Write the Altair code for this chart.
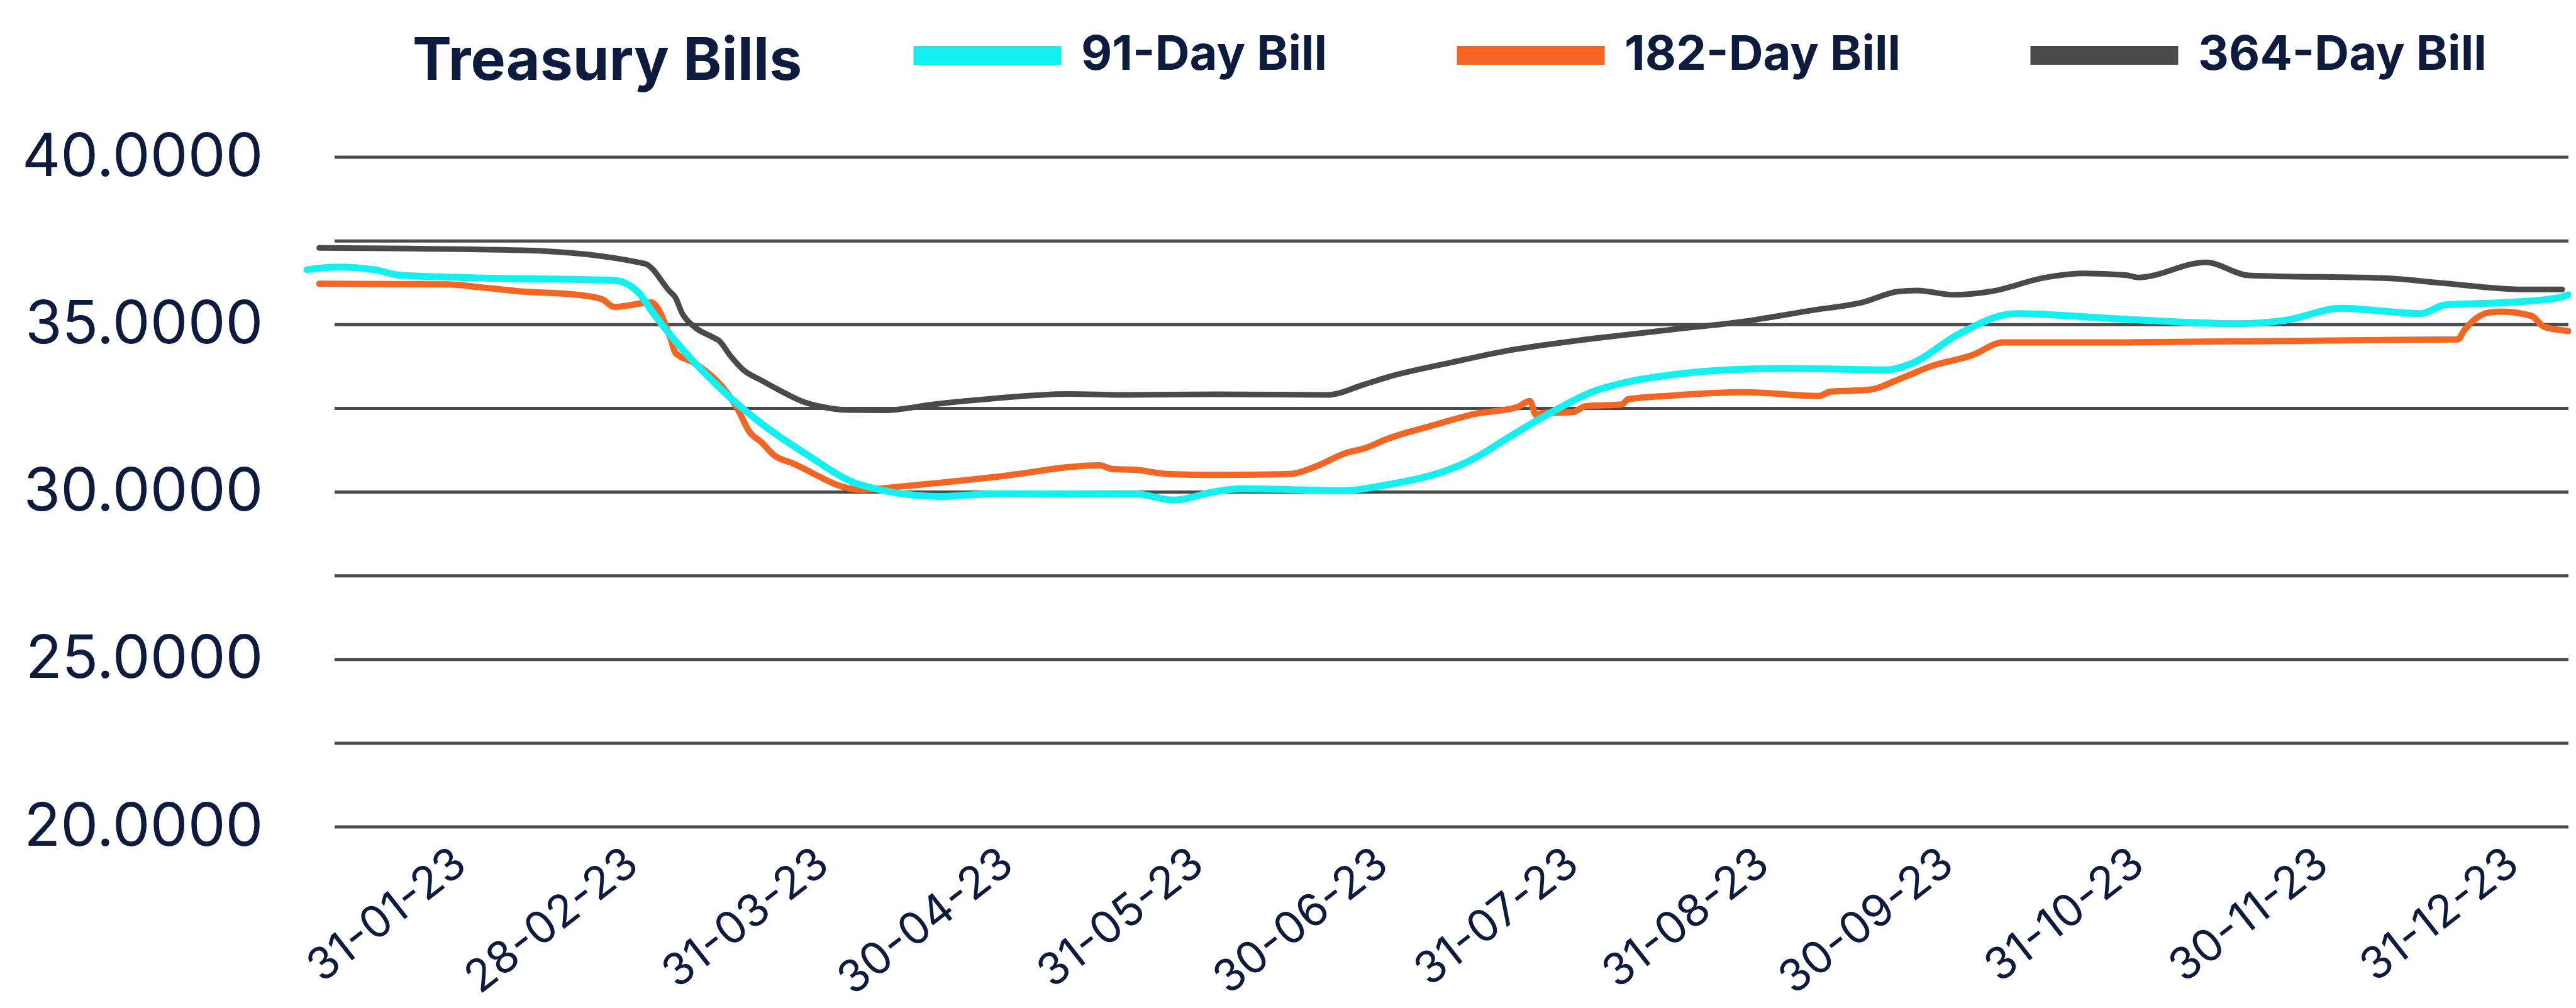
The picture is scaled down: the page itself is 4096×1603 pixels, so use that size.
import altair as alt
import pandas as pd

# ---------------- data ----------------
series_names = ["91-Day Bill", "182-Day Bill", "364-Day Bill"]
series_colors = ["#12F0F0", "#F26522", "#4A4A4A"]

dates_91 = ["2023-01-04", "2023-01-09", "2023-01-15", "2023-01-19", "2023-01-31", "2023-02-23",
            "2023-02-27", "2023-03-01", "2023-03-05", "2023-03-10", "2023-03-14", "2023-03-19",
            "2023-03-26", "2023-04-04", "2023-04-17", "2023-04-26", "2023-05-19", "2023-05-25",
            "2023-06-01", "2023-06-05", "2023-06-22", "2023-06-27", "2023-07-13", "2023-07-18",
            "2023-07-25", "2023-08-01", "2023-08-08", "2023-08-14", "2023-08-23", "2023-09-02",
            "2023-09-18", "2023-09-22", "2023-09-30", "2023-10-09", "2023-10-27", "2023-11-14",
            "2023-11-22", "2023-12-01", "2023-12-14", "2023-12-18", "2023-12-28", "2024-01-05",
            "2024-01-07"]
values_91 = [36.64, 36.72, 36.64, 36.48, 36.40, 36.32, 35.95, 35.43, 34.50, 33.50, 32.80, 32.04,
             31.16, 30.22, 29.87, 29.95, 29.94, 29.76, 30.02, 30.10, 30.04, 30.16, 31.01, 31.57,
             32.33, 32.98, 33.33, 33.50, 33.65, 33.69, 33.65, 33.83, 34.74, 35.33, 35.16, 35.03,
             35.13, 35.49, 35.33, 35.59, 35.66, 35.79, 35.89]

dates_182 = ["2023-01-06", "2023-01-27", "2023-02-01", "2023-02-08", "2023-02-17", "2023-02-21",
             "2023-02-23", "2023-03-01", "2023-03-04", "2023-03-05", "2023-03-08", "2023-03-15",
             "2023-03-17", "2023-03-19", "2023-03-21", "2023-03-24", "2023-04-04", "2023-04-12",
             "2023-04-26", "2023-05-13", "2023-05-15", "2023-05-19", "2023-05-24", "2023-06-01",
             "2023-06-13", "2023-06-17", "2023-06-22", "2023-06-25", "2023-06-29", "2023-07-06",
             "2023-07-13", "2023-07-20", "2023-07-22", "2023-07-23", "2023-07-24", "2023-07-29",
             "2023-07-31", "2023-08-06", "2023-08-07", "2023-08-14", "2023-08-26", "2023-09-07",
             "2023-09-09", "2023-09-15", "2023-09-21", "2023-09-25", "2023-10-02", "2023-10-07",
             "2023-10-27", "2023-12-20", "2023-12-21", "2023-12-25", "2023-12-27", "2024-01-01",
             "2024-01-03", "2024-01-07"]
values_182 = [36.22, 36.20, 36.12, 35.99, 35.89, 35.76, 35.53, 35.66, 34.68, 34.15, 33.86, 32.51,
              31.80, 31.48, 31.10, 30.86, 30.07, 30.19, 30.45, 30.80, 30.69, 30.66, 30.54, 30.51,
              30.54, 30.75, 31.16, 31.30, 31.60, 31.98, 32.33, 32.54, 32.72, 32.30, 32.36, 32.39,
              32.56, 32.62, 32.77, 32.88, 32.98, 32.87, 33.00, 33.05, 33.44, 33.74, 34.09, 34.47,
              34.47, 34.56, 34.82, 35.36, 35.39, 35.26, 34.94, 34.81]

dates_364 = ["2023-01-06", "2023-02-08", "2023-02-28", "2023-03-04", "2023-03-05", "2023-03-06",
             "2023-03-08", "2023-03-11", "2023-03-12", "2023-03-14", "2023-03-16", "2023-03-19",
             "2023-03-22", "2023-03-26", "2023-03-29", "2023-04-02", "2023-04-08", "2023-04-16",
             "2023-04-26", "2023-05-08", "2023-05-17", "2023-06-01", "2023-06-19", "2023-06-25",
             "2023-06-29", "2023-07-09", "2023-07-18", "2023-07-30", "2023-08-14", "2023-08-26",
             "2023-09-06", "2023-09-14", "2023-09-20", "2023-09-23", "2023-09-29", "2023-10-05",
             "2023-10-14", "2023-10-20", "2023-10-27", "2023-10-29", "2023-11-09", "2023-11-16",
             "2023-12-09", "2023-12-17", "2023-12-31", "2024-01-06"]
values_364 = [37.29, 37.22, 36.82, 36.00, 35.80, 35.36, 34.94, 34.63, 34.53, 34.05, 33.65, 33.33,
              33.03, 32.68, 32.54, 32.45, 32.44, 32.62, 32.80, 32.93, 32.90, 32.92, 32.90, 33.21,
              33.44, 33.86, 34.21, 34.53, 34.85, 35.10, 35.43, 35.66, 35.99, 36.02, 35.89, 35.99,
              36.41, 36.53, 36.48, 36.41, 36.86, 36.47, 36.38, 36.25, 36.05, 36.05]

x_tick_dates = ["2023-01-31", "2023-02-28", "2023-03-31", "2023-04-30", "2023-05-31", "2023-06-30",
                "2023-07-31", "2023-08-31", "2023-09-30", "2023-10-31", "2023-11-30", "2023-12-31"]
y_label_values = [20, 25, 30, 35, 40]
y_grid_values = [20, 22.5, 25, 27.5, 30, 32.5, 35, 37.5, 40]

x_domain = ["2023-01-04", "2024-01-07T10:00:00"]
grid_span = ["2023-01-08T12:00:00", "2024-01-07"]

# ---------------- helpers ----------------
def ms(s):
    return int(pd.Timestamp(s).value // 10**6)

NAVY = "#0D1B3E"
FONT = "Inter"

rows = []
for name, ds, vs in [("91-Day Bill", dates_91, values_91),
                     ("182-Day Bill", dates_182, values_182),
                     ("364-Day Bill", dates_364, values_364)]:
    for d, v in zip(ds, vs):
        rows.append({"date": d, "value": v, "series": name})
df = pd.DataFrame(rows)

grid_df = pd.DataFrame({"value": y_grid_values,
                        "date": [grid_span[0]] * len(y_grid_values),
                        "date_end": [grid_span[1]] * len(y_grid_values)})

x_scale = alt.Scale(type="utc", domain=[ms(x_domain[0]), ms(x_domain[1])])
y_scale = alt.Scale(domain=[20, 40], nice=False, zero=False)

x_axis = alt.Axis(values=[ms(d) for d in x_tick_dates], format="%d-%m-%y", labelAngle=322,
                  labelFont=FONT, labelFontSize=71, labelColor=NAVY, labelPadding=22,
                  labelOffset=-41, labelLimit=0, ticks=False, domain=False, grid=False,
                  labelOverlap=False, labelFlush=False)
y_axis = alt.Axis(values=y_label_values, format=".4f", labelFont=FONT, labelFontSize=95,
                  labelColor=NAVY, labelPadding=70, labelLimit=0, ticks=False, domain=False,
                  grid=False, labelBaseline="middle")

grid = alt.Chart(grid_df).mark_rule(color="#4A4A4A", strokeWidth=5).encode(
    x=alt.X("date:T", scale=x_scale, axis=x_axis, title=None),
    x2="date_end:T",
    y=alt.Y("value:Q", scale=y_scale, axis=y_axis, title=None),
)

color = alt.Color("series:N",
                  scale=alt.Scale(domain=series_names, range=series_colors),
                  legend=alt.Legend(title="Treasury Bills", orient="none", legendX=168, legendY=-200,
                                    direction="horizontal", titleOrient="left", padding=0,
                                    titleFont=FONT, titleFontSize=93, titleFontWeight="bold",
                                    titleColor=NAVY, titlePadding=256, titleAnchor="middle",
                                    titleBaseline="middle", titleLimit=0,
                                    labelFont=FONT, labelFontSize=76, labelFontWeight="bold",
                                    labelColor=NAVY, labelOffset=111, labelLimit=0,
                                    symbolType="M-8,0L8,0", symbolSize=863, symbolStrokeWidth=30,
                                    columnPadding=145))

widths = {"364-Day Bill": 9, "182-Day Bill": 10, "91-Day Bill": 11}
layers = [grid]
for s in ["364-Day Bill", "182-Day Bill", "91-Day Bill"]:
    layers.append(
        alt.Chart(df).transform_filter(alt.datum.series == s)
        .mark_line(strokeWidth=widths[s], interpolate="monotone", strokeCap="round", strokeJoin="round")
        .encode(x=alt.X("date:T", scale=x_scale, axis=x_axis, title=None),
                y=alt.Y("value:Q", scale=y_scale, axis=y_axis, title=None),
                color=color)
    )

chart = alt.layer(*layers).properties(
    width=3600, height=1065,
    background="white",
    autosize=alt.AutoSizeParams(type="none"),
    padding={"left": 480, "top": 242, "right": 0, "bottom": 280},
).configure_view(stroke=None)

chart.save("out.html", embed_options={"renderer": "svg", "actions": False})
